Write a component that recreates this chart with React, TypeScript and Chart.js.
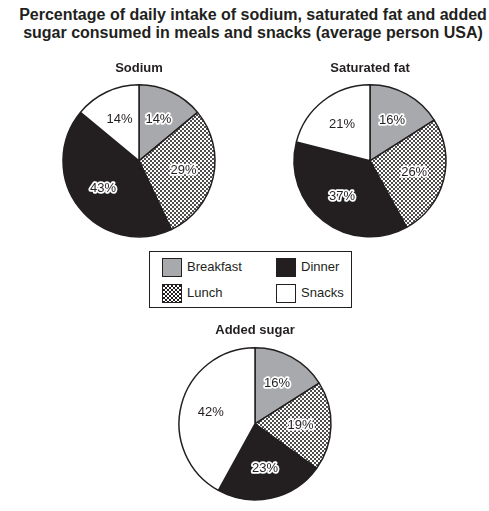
import React, { useEffect, useRef } from "react";
import { Chart, registerables } from "chart.js";

Chart.register(...registerables);

const categories = ["Breakfast", "Lunch", "Dinner", "Snacks"];
const sodiumValues = [14, 29, 43, 14];
const satFatValues = [16, 26, 37, 21];
const sugarValues = [16, 19, 23, 42];
const pieTitles = ["Sodium", "Saturated fat", "Added sugar"];
const mainTitleLines = [
  "Percentage of daily intake of sodium, saturated fat and added",
  "sugar consumed in meals and snacks (average person USA)",
];

const FONT = '"Liberation Sans", Arial, Helvetica, sans-serif';
const INK = "#231f20";
const GREY = "#a7a9ac";

function makeHatch(): CanvasPattern | string {
  const c = document.createElement("canvas");
  c.width = 4;
  c.height = 4;
  const g = c.getContext("2d");
  if (!g) return "#fff";
  g.fillStyle = "#fff";
  g.fillRect(0, 0, 4, 4);
  g.strokeStyle = INK;
  g.lineWidth = 0.8;
  g.beginPath();
  g.moveTo(-1, -1);
  g.lineTo(5, 5);
  g.moveTo(-1, 5);
  g.lineTo(5, -1);
  g.stroke();
  return g.createPattern(c, "repeat") || "#fff";
}

const labelPlugin = {
  id: "sliceLabels",
  afterDatasetsDraw(chart: any) {
    const ctx = chart.ctx as CanvasRenderingContext2D;
    const meta = chart.getDatasetMeta(0);
    const data = chart.data.datasets[0].data as number[];
    ctx.save();
    ctx.font = `13px ${FONT}`;
    ctx.textAlign = "center";
    ctx.textBaseline = "middle";
    ctx.lineJoin = "round";
    meta.data.forEach((arc: any, i: number) => {
      const p = arc.getProps(["x", "y", "startAngle", "endAngle", "outerRadius"], true);
      const mid = (p.startAngle + p.endAngle) / 2;
      const r = p.outerRadius * 0.6;
      const tx = p.x + Math.cos(mid) * r;
      const ty = p.y + Math.sin(mid) * r;
      const t = `${data[i]}%`;
      ctx.strokeStyle = "#fff";
      ctx.lineWidth = 3.5;
      ctx.strokeText(t, tx, ty);
      ctx.fillStyle = INK;
      ctx.fillText(t, tx, ty);
    });
    ctx.restore();
  },
};

function PieChart(props: { values: number[]; title: string; left: number; top: number; width: number; height: number }) {
  const ref = useRef<HTMLCanvasElement>(null);
  useEffect(() => {
    if (!ref.current) return;
    const hatch = makeHatch();
    const chart = new Chart(ref.current, {
      type: "pie",
      data: {
        labels: categories,
        datasets: [
          {
            data: props.values,
            backgroundColor: [GREY, hatch as any, INK, "#ffffff"],
            borderColor: INK,
            borderWidth: 1.5,
          },
        ],
      },
      options: {
        responsive: false,
        animation: false,
        events: [],
        radius: 76,
        layout: { padding: 0 },
        plugins: {
          legend: { display: false },
          tooltip: { enabled: false },
          title: {
            display: true,
            text: props.title,
            color: INK,
            font: { family: FONT, size: 13, weight: "bold", lineHeight: 1.2 },
            padding: { top: 0, bottom: 4 },
          },
        },
      } as any,
      plugins: [labelPlugin],
    });
    return () => chart.destroy();
  }, []);
  return (
    <canvas
      ref={ref}
      width={props.width}
      height={props.height}
      style={{ position: "absolute", left: props.left, top: props.top, width: props.width, height: props.height }}
    />
  );
}

const swatchBase: React.CSSProperties = {
  position: "absolute",
  width: 20,
  height: 19,
  boxSizing: "border-box",
  border: `1.5px solid ${INK}`,
};

const legendText: React.CSSProperties = {
  position: "absolute",
  fontFamily: FONT,
  fontSize: 13,
  lineHeight: "16px",
  color: INK,
  whiteSpace: "nowrap",
};

const hatchCss =
  `repeating-linear-gradient(45deg, ${INK} 0 0.8px, transparent 0.8px 2.83px), ` +
  `repeating-linear-gradient(-45deg, ${INK} 0 0.8px, #fff 0.8px 2.83px)`;

export default function App() {
  return (
    <div style={{ position: "absolute", left: 0, top: 0, width: 489, height: 511, background: "#fff", overflow: "hidden" }}>
      <div
        style={{
          position: "absolute",
          left: 0,
          top: 6,
          width: 506,
          textAlign: "center",
          fontFamily: FONT,
          fontWeight: "bold",
          fontSize: 16,
          lineHeight: "18px",
          color: INK,
          whiteSpace: "nowrap",
        }}
      >
        <div>{mainTitleLines[0]}</div>
        <div>{mainTitleLines[1]}</div>
      </div>

      <PieChart values={sodiumValues} title={pieTitles[0]} left={39} top={61} width={200} height={180} />
      <PieChart values={satFatValues} title={pieTitles[1]} left={270} top={61} width={200} height={180} />
      <PieChart values={sugarValues} title={pieTitles[2]} left={155} top={323} width={200} height={182} />

      <div
        style={{
          position: "absolute",
          left: 149,
          top: 251,
          width: 203,
          height: 57,
          boxSizing: "border-box",
          border: `1px solid ${INK}`,
        }}
      />
      <div style={{ ...swatchBase, left: 162, top: 258, background: GREY }} />
      <div style={{ ...legendText, left: 187, top: 259 }}>{categories[0]}</div>
      <div style={{ ...swatchBase, left: 162, top: 284, background: hatchCss }} />
      <div style={{ ...legendText, left: 187, top: 285 }}>{categories[1]}</div>
      <div style={{ ...swatchBase, left: 276, top: 258, background: INK }} />
      <div style={{ ...legendText, left: 301, top: 259 }}>{categories[2]}</div>
      <div style={{ ...swatchBase, left: 276, top: 284, background: "#fff" }} />
      <div style={{ ...legendText, left: 301, top: 285 }}>{categories[3]}</div>
    </div>
  );
}
